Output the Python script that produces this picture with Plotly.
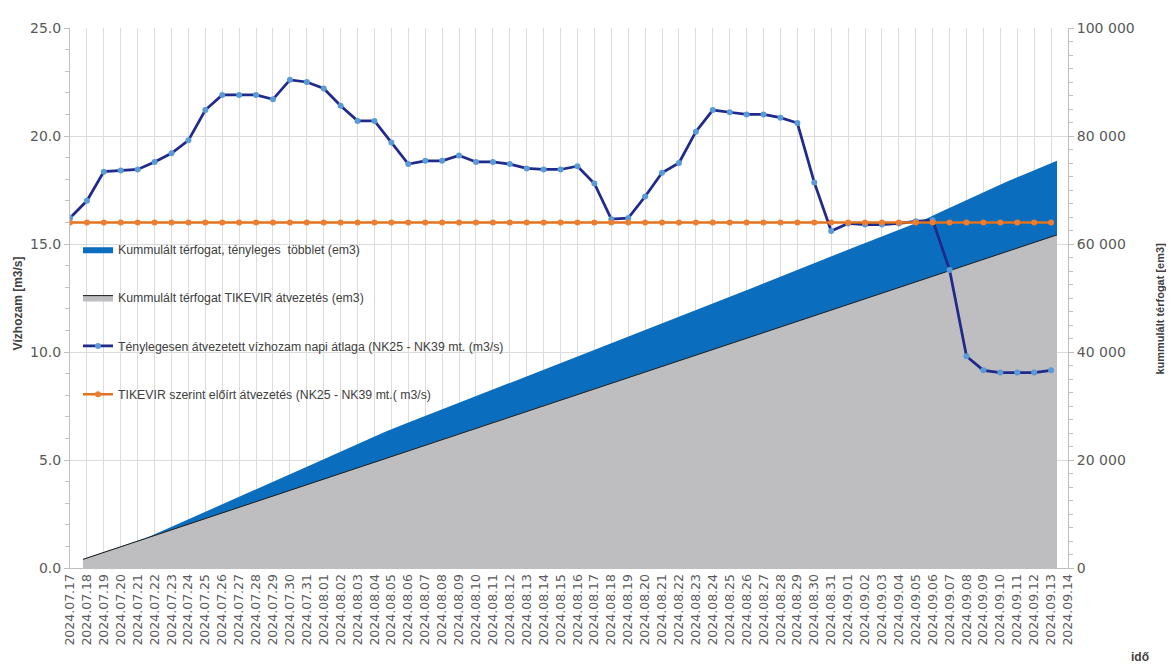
import plotly.graph_objects as go

# ---- categories (x axis) ----
dates = [
    "2024.07.17", "2024.07.18", "2024.07.19", "2024.07.20", "2024.07.21", "2024.07.22",
    "2024.07.23", "2024.07.24", "2024.07.25", "2024.07.26", "2024.07.27", "2024.07.28",
    "2024.07.29", "2024.07.30", "2024.07.31", "2024.08.01", "2024.08.02", "2024.08.03",
    "2024.08.04", "2024.08.05", "2024.08.06", "2024.08.07", "2024.08.08", "2024.08.09",
    "2024.08.10", "2024.08.11", "2024.08.12", "2024.08.13", "2024.08.14", "2024.08.15",
    "2024.08.16", "2024.08.17", "2024.08.18", "2024.08.19", "2024.08.20", "2024.08.21",
    "2024.08.22", "2024.08.23", "2024.08.24", "2024.08.25", "2024.08.26", "2024.08.27",
    "2024.08.28", "2024.08.29", "2024.08.30", "2024.08.31", "2024.09.01", "2024.09.02",
    "2024.09.03", "2024.09.04", "2024.09.05", "2024.09.06", "2024.09.07", "2024.09.08",
    "2024.09.09", "2024.09.10", "2024.09.11", "2024.09.12", "2024.09.13", "2024.09.14",
]

# ---- daily mean discharge, actual (m3/s), 2024.07.17 .. 2024.09.13 ----
flow_actual = [
    16.2, 17.0, 18.35, 18.4, 18.45, 18.8, 19.2, 19.8, 21.2, 21.9,
    21.9, 21.9, 21.7, 22.6, 22.5, 22.2, 21.4, 20.7, 20.7, 19.7,
    18.7, 18.85, 18.85, 19.1, 18.8, 18.8, 18.7, 18.5, 18.45, 18.45,
    18.6, 17.8, 16.15, 16.2, 17.2, 18.3, 18.75, 20.2, 21.2, 21.1,
    21.0, 21.0, 20.85, 20.6, 17.85, 15.6, 15.95, 15.9, 15.9, 15.95,
    16.05, 16.1, 13.8, 9.8, 9.15, 9.05, 9.05, 9.05, 9.15,
]

# ---- prescribed discharge by TIKEVIR (m3/s) ----
flow_required = [
    16.0, 16.0, 16.0, 16.0, 16.0, 16.0, 16.0, 16.0, 16.0, 16.0,
    16.0, 16.0, 16.0, 16.0, 16.0, 16.0, 16.0, 16.0, 16.0, 16.0,
    16.0, 16.0, 16.0, 16.0, 16.0, 16.0, 16.0, 16.0, 16.0, 16.0,
    16.0, 16.0, 16.0, 16.0, 16.0, 16.0, 16.0, 16.0, 16.0, 16.0,
    16.0, 16.0, 16.0, 16.0, 16.0, 16.0, 16.0, 16.0, 16.0, 16.0,
    16.0, 16.0, 16.0, 16.0, 16.0, 16.0, 16.0, 16.0, 16.0,
]

# ---- cumulative volume per TIKEVIR (em3) ----
cum_tikevir = [
    1600, 2636, 3672, 4708, 5744, 6780, 7816, 8852, 9888, 10924,
    11960, 12996, 14032, 15068, 16104, 17140, 18176, 19212, 20248, 21284,
    22320, 23356, 24392, 25428, 26464, 27500, 28536, 29572, 30608, 31644,
    32680, 33716, 34752, 35788, 36824, 37860, 38896, 39932, 40968, 42004,
    43040, 44076, 45112, 46148, 47184, 48220, 49256, 50292, 51328, 52364,
    53400, 54436, 55472, 56508, 57544, 58580, 59616, 60652, 61688,
]

# ---- cumulative volume incl. actual surplus (top of blue band, em3) ----
cum_actual = [
    1650, 2650, 3700, 4780, 5870, 7240, 8600, 9960, 11330, 12690,
    14060, 15450, 16860, 18270, 19680, 21080, 22490, 23900, 25250, 26460,
    27670, 28880, 30100, 31310, 32520, 33740, 34940, 36160, 37370, 38580,
    39790, 41010, 42220, 43430, 44650, 45860, 47060, 48280, 49500, 50770,
    52030, 53290, 54560, 55820, 57080, 58310, 59500, 60700, 61900, 63100,
    64370, 65820, 67270, 68720, 70170, 71530, 72820, 74100, 75400,
]

idx = list(range(len(flow_actual)))
tick_idx = list(range(len(dates)))

TXT = "#404040"
TICK = "#595959"
AX = "#BFBFBF"
GRID = "#DCDCDC"

fig = go.Figure()

# areas (base subplot, secondary horizontal placement)
fig.add_trace(go.Scatter(
    x=idx, y=cum_tikevir, xaxis="x", yaxis="y", mode="lines",
    fill="tozeroy", fillcolor="#BEBEC0",
    line=dict(color="#1a1a1a", width=1),
    name="Kummulált térfogat TIKEVIR átvezetés (em3)",
    legendrank=2, legendgroup="g2", hoverinfo="skip",
))
fig.add_trace(go.Scatter(
    x=idx, y=cum_actual, xaxis="x", yaxis="y", mode="lines",
    fill="tonexty", fillcolor="#0B6DBE",
    line=dict(color="#0B6DBE", width=0),
    name="Kummulált térfogat, tényleges  többlet (em3)",
    legendrank=1, legendgroup="g1", hoverinfo="skip",
))

# lines (overlay subplot)
fig.add_trace(go.Scatter(
    x=idx, y=flow_actual, xaxis="x2", yaxis="y2", mode="lines+markers",
    line=dict(color="#1F2A8C", width=2.75),
    marker=dict(color="#5B9BD5", size=6),
    name="Ténylegesen átvezetett vízhozam napi átlaga (NK25 - NK39 mt. (m3/s)",
    legendrank=3, legendgroup="g3",
))
fig.add_trace(go.Scatter(
    x=idx, y=flow_required, xaxis="x2", yaxis="y2", mode="lines+markers",
    line=dict(color="#E0731F", width=2.5),
    marker=dict(color="#ED7D31", size=6),
    name="TIKEVIR szerint előírt átvezetés (NK25 - NK39 mt.( m3/s)",
    legendrank=4, legendgroup="g4",
))

fig.update_layout(
    width=1166, height=662,
    margin=dict(l=62, r=106, t=12, b=102),
    paper_bgcolor="white", plot_bgcolor="white",
    separators=". ",
    showlegend=True,
    legend=dict(
        x=0.008, y=0.617, xanchor="left", yanchor="top",
        bgcolor="rgba(0,0,0,0)", traceorder="grouped", tracegroupgap=29.3,
        font=dict(family="Liberation Sans, Arial, sans-serif", size=12.3, color=TXT),
        itemwidth=30,
    ),
    xaxis=dict(
        range=[-0.774, 58.655], visible=False, showgrid=False, zeroline=False,
    ),
    yaxis=dict(
        range=[0, 100000], side="right", anchor="x", dtick=20000, tickformat=",d",
        showgrid=False, zeroline=False, showline=True, linecolor=AX,
        ticks="outside", ticklen=5, tickcolor=AX,
        minor=dict(dtick=2500, ticks="outside", ticklen=4, tickcolor=AX, showgrid=False),
        tickfont=dict(family="DejaVu Sans", size=14, color=TICK),
    ),
    xaxis2=dict(
        overlaying="x", anchor="y2", side="bottom", range=[0, 59],
        tickmode="array", tickvals=tick_idx, ticktext=dates, tickangle=-90,
        showgrid=True, gridcolor=GRID, gridwidth=1, zeroline=False,
        showline=True, linecolor=AX, ticks="",
        tickfont=dict(family="DejaVu Sans", size=12.5, color=TICK),
    ),
    yaxis2=dict(
        overlaying="y", anchor="x2", side="left", range=[0, 25], dtick=5,
        tickformat=".1f", showgrid=True, gridcolor=GRID, zeroline=False,
        showline=True, linecolor=AX, ticks="outside", ticklen=5, tickcolor=AX,
        minor=dict(dtick=1, ticks="outside", ticklen=4, tickcolor=AX, showgrid=False),
        tickfont=dict(family="DejaVu Sans", size=14, color=TICK),
    ),
    annotations=[
        dict(text="<b>Vízhozam [m3/s]</b>", xref="paper", yref="paper",
             x=-0.052, y=0.49, textangle=-90, showarrow=False,
             xanchor="center", yanchor="middle",
             font=dict(family="Liberation Sans, Arial, sans-serif", size=12, color=TXT)),
        dict(text="<b>kummulált térfogat [em3]</b>", xref="paper", yref="paper",
             x=1.092, y=0.48, textangle=-90, showarrow=False,
             xanchor="center", yanchor="middle",
             font=dict(family="Liberation Sans, Arial, sans-serif", size=11, color=TXT)),
        dict(text="<b>idő</b>", xref="paper", yref="paper",
             x=1.072, y=-0.165, showarrow=False,
             xanchor="center", yanchor="middle",
             font=dict(family="Liberation Sans, Arial, sans-serif", size=12, color=TXT)),
    ],
)

fig.write_html("out.html")
